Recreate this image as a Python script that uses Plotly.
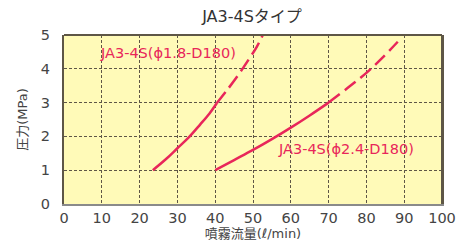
import plotly.graph_objects as go

# Data
s1_solid_x = [23.5, 27, 30, 33, 36, 38.5, 40.4]
s1_solid_y = [1.0, 1.33, 1.65, 1.97, 2.35, 2.68, 2.98]
s1_dash_x = [40.4, 43, 46, 49, 51, 52.6]
s1_dash_y = [2.98, 3.35, 3.8, 4.3, 4.65, 5.0]

s2_solid_x = [40, 45, 50, 55, 60, 65, 70]
s2_solid_y = [1.0, 1.3, 1.6, 1.92, 2.26, 2.62, 3.0]
s2_dash_x = [70, 75, 80, 84, 88.3]
s2_dash_y = [3.0, 3.43, 3.88, 4.3, 4.8]

label1 = "JA3-4S(ϕ1.8-D180)"
label2 = "JA3-4S(ϕ2.4-D180)"
title = "JA3-4Sタイプ"
x_title = "噴霧流量(ℓ/min)"
y_title = "圧力(MPa)"
x_ticks = list(range(0, 101, 10))
y_ticks = [0, 1, 2, 3, 4, 5]

red = "#e8265a"
font = "DejaVu Sans, Noto Sans CJK JP"

fig = go.Figure()
for xs, ys, dash in [(s1_solid_x, s1_solid_y, "solid"), (s1_dash_x, s1_dash_y, "14px,6px"),
                     (s2_solid_x, s2_solid_y, "solid"), (s2_dash_x, s2_dash_y, "14px,6px")]:
    fig.add_trace(go.Scatter(x=xs, y=ys, mode="lines", line=dict(color=red, width=2.5, dash=dash, shape="spline"),
                             showlegend=False, hoverinfo="skip"))

fig.add_annotation(x=9, y=4.47, text=label1, showarrow=False, xanchor="left", yanchor="middle",
                   font=dict(family=font, size=14.5, color=red))
fig.add_annotation(x=56, y=1.63, text=label2, showarrow=False, xanchor="left", yanchor="middle",
                   font=dict(family=font, size=14.5, color=red))

fig.update_layout(
    width=459, height=241,
    margin=dict(l=64, r=17, t=35, b=37),
    paper_bgcolor="white", plot_bgcolor="#fffab8",
    title=dict(text=title, x=0.549, xanchor="center", y=0.93, yanchor="middle",
               font=dict(family=font, size=16, color="#333333")),
    font=dict(family=font, color="#444444"),
)
fig.update_xaxes(range=[0, 100], tickvals=x_ticks, showgrid=True, gridcolor="#5e5646", griddash="3px,2px",
                 gridwidth=1, showline=True, linecolor="#8a8a8a", linewidth=2, mirror=False,
                 ticks="", tickfont=dict(size=14.5, color="#444444"), zeroline=False, automargin=False,
                 ticklabelstandoff=0,
                 title=dict(text=x_title, font=dict(size=13, color="#444444"), standoff=9))
fig.update_yaxes(range=[0, 5], tickvals=y_ticks, showgrid=True, gridcolor="#5e5646", griddash="3px,2px",
                 gridwidth=1, showline=True, linecolor="#5e5646", linewidth=2, mirror=True,
                 ticks="", tickfont=dict(size=14.5, color="#444444"), zeroline=False, ticklabelstandoff=9,
                 automargin=False,
                 title=dict(text=y_title, font=dict(size=13, color="#444444"), standoff=10))
# top/right borders
fig.add_shape(type="line", xref="paper", yref="paper", x0=0, x1=1, y0=1, y1=1, line=dict(color="#5e5646", width=2))
fig.add_shape(type="line", xref="paper", yref="paper", x0=1, x1=1, y0=0, y1=1, line=dict(color="#5e5646", width=2))

fig.write_html("out.html", config={"displayModeBar": False},
               post_script="document.body.style.margin='0';document.body.style.padding='0';")
